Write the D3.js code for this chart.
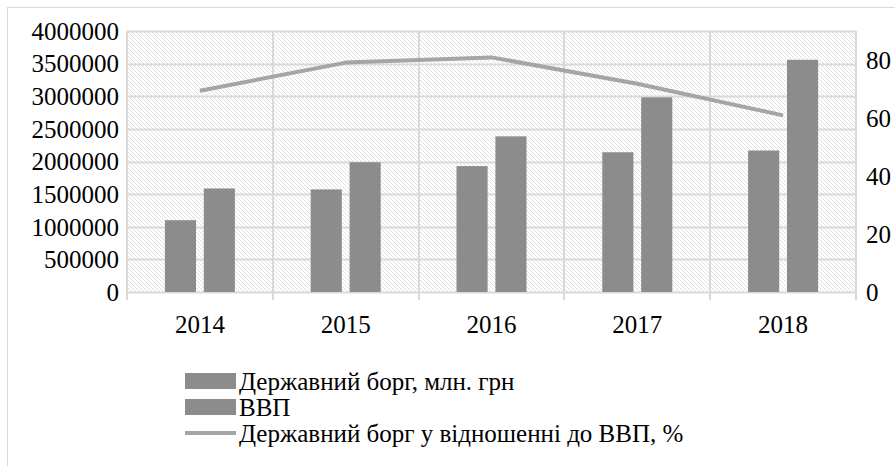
<!DOCTYPE html>
<html>
<head>
<meta charset="utf-8">
<script src="https://cdn.jsdelivr.net/npm/d3@7"></script>
<style>
  body { margin: 0; background: #fff; }
</style>
</head>
<body>
<div id="chart"></div>
<script>
const years = ['2014', '2015', '2016', '2017', '2018']
const debt = [1100833, 1572180, 1929759, 2141674, 2168627]
const gdp = [1586915, 1988544, 2385367, 2983882, 3558706]
const ratio = [69.4, 79.1, 80.9, 71.8, 60.9]
const leftTicks = [0, 500000, 1000000, 1500000, 2000000, 2500000, 3000000, 3500000, 4000000]
const rightTicks = [0, 20, 40, 60, 80]
const legendLabels = ['Державний борг, млн. грн', 'ВВП', 'Державний борг у відношенні до ВВП, %']

const W = 895
const H = 466
const margin = { top: 31, left: 127, right: 39, bottom: 174 }
const width = W - margin.left - margin.right
const height = H - margin.top - margin.bottom

const font = "'Liberation Serif', 'Times New Roman', Times, 'Noto Serif', 'DejaVu Serif', serif"
const barColor = '#8c8c8c'
const lineColor = '#a5a5a5'
const gridColor = '#d9d9d9'

const root = d3.select('#chart')
  .append('svg')
  .attr('width', W)
  .attr('height', H)
  .style('font-family', font)

// hatch pattern for the plot background
const defs = root.append('defs')
const pat = defs.append('pattern')
  .attr('id', 'hatch')
  .attr('patternUnits', 'userSpaceOnUse')
  .attr('width', 4)
  .attr('height', 4)
pat.append('rect').attr('width', 4).attr('height', 4).attr('fill', '#fff')
pat.append('path')
  .attr('d', 'M-1,-1 L5,5 M-1,3 L1,5 M3,-1 L5,1')
  .attr('stroke', '#dcdcdc')
  .attr('stroke-width', 0.9)

// outer chart border (only left and top visible)
root.append('rect')
  .attr('x', 7.5)
  .attr('y', 7.5)
  .attr('width', W + 20)
  .attr('height', H + 20)
  .attr('fill', 'none')
  .attr('stroke', gridColor)

const svg = root.append('g')
  .attr('transform', 'translate(' + margin.left + ',' + margin.top + ')')

const x = d3.scaleBand().domain(years).range([0, width])
const xInner = d3.scaleBand().domain(['debt', 'gdp']).range([0, 70]).paddingInner(0.2)
const yLeft = d3.scaleLinear().domain([0, 4000000]).range([height, 0])
const yRight = d3.scaleLinear().domain([0, 90]).range([height, 0])

svg.append('rect')
  .attr('width', width)
  .attr('height', height)
  .attr('fill', 'url(#hatch)')

// horizontal grid
svg.selectAll('.hgrid')
  .data(leftTicks)
  .enter()
  .append('line')
  .attr('x1', 0)
  .attr('x2', width)
  .attr('y1', d => Math.round(yLeft(d)) + 0.5)
  .attr('y2', d => Math.round(yLeft(d)) + 0.5)
  .attr('stroke', gridColor)
  .attr('stroke-width', 2)

// vertical grid at category boundaries, with tick marks below
const bounds = years.map(d => x(d)).concat([width])
svg.selectAll('.vgrid')
  .data(bounds)
  .enter()
  .append('line')
  .attr('x1', d => Math.round(d))
  .attr('x2', d => Math.round(d))
  .attr('y1', 0)
  .attr('y2', height + 8)
  .attr('stroke', gridColor)
  .attr('stroke-width', 2)

// bars
const groups = svg.selectAll('.grp')
  .data(years)
  .enter()
  .append('g')
  .attr('transform', d => 'translate(' + (x(d) + x.bandwidth() / 2 - 35) + ',0)')

groups.append('rect')
  .attr('x', xInner('debt'))
  .attr('width', xInner.bandwidth())
  .attr('y', (d, i) => yLeft(debt[i]))
  .attr('height', (d, i) => height - yLeft(debt[i]))
  .attr('fill', barColor)

groups.append('rect')
  .attr('x', xInner('gdp'))
  .attr('width', xInner.bandwidth())
  .attr('y', (d, i) => yLeft(gdp[i]))
  .attr('height', (d, i) => height - yLeft(gdp[i]))
  .attr('fill', barColor)

// ratio line
const line = d3.line()
  .x((d, i) => x(years[i]) + x.bandwidth() / 2)
  .y(d => yRight(d))

svg.append('path')
  .datum(ratio)
  .attr('d', line)
  .attr('fill', 'none')
  .attr('stroke', lineColor)
  .attr('stroke-width', 4)
  .attr('stroke-linejoin', 'round')

// axis labels
svg.selectAll('.ly')
  .data(leftTicks)
  .enter()
  .append('text')
  .attr('x', -8)
  .attr('y', d => yLeft(d))
  .attr('dy', '0.35em')
  .attr('text-anchor', 'end')
  .style('font-family', font)
  .style('font-size', '25px')
  .text(d => d)

svg.selectAll('.ry')
  .data(rightTicks)
  .enter()
  .append('text')
  .attr('x', width + 10)
  .attr('y', d => yRight(d))
  .attr('dy', '0.35em')
  .style('font-family', font)
  .style('font-size', '25px')
  .text(d => d)

svg.selectAll('.lx')
  .data(years)
  .enter()
  .append('text')
  .attr('x', d => x(d) + x.bandwidth() / 2)
  .attr('y', height + 41)
  .attr('text-anchor', 'middle')
  .style('font-family', font)
  .style('font-size', '25px')
  .text(d => d)

// legend
const legend = root.append('g').attr('transform', 'translate(185,0)')
const rowsY = [381, 407, 433]

legendLabels.forEach((label, i) => {
  if (i < 2) {
    legend.append('rect')
      .attr('x', 0)
      .attr('y', rowsY[i] - 8)
      .attr('width', 51)
      .attr('height', 16)
      .attr('fill', barColor)
  } else {
    legend.append('line')
      .attr('x1', 0)
      .attr('x2', 51)
      .attr('y1', rowsY[i])
      .attr('y2', rowsY[i])
      .attr('stroke', lineColor)
      .attr('stroke-width', 4)
  }
  legend.append('text')
    .attr('x', 54)
    .attr('y', rowsY[i])
    .attr('dy', '0.35em')
    .style('font-family', font)
    .style('font-size', '25px')
    .text(label)
})
</script>
</body>
</html>
